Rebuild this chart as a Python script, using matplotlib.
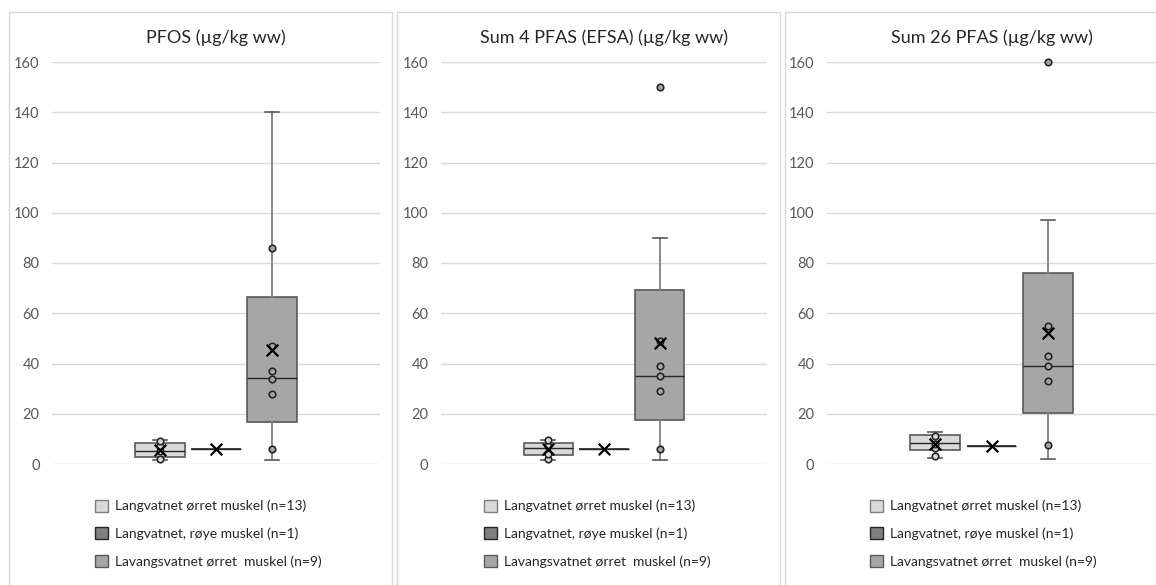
import matplotlib.pyplot as plt
from matplotlib.patches import Patch, Rectangle

plt.rcParams['font.family'] = ['Lato', 'DejaVu Sans']

# Data
titles = ["PFOS (µg/kg ww)", "Sum 4 PFAS (EFSA) (µg/kg ww)", "Sum 26 PFAS (µg/kg ww)"]
groups = ["Langvatnet ørret muskel (n=13)",
          "Langvatnet, røye muskel (n=1)",
          "Lavangsvatnet ørret  muskel (n=9)"]

# one list per panel, one value per group
q1 = [[2.9, 5.8, 16.9], [3.6, 6.1, 17.5], [5.6, 7.2, 20.2]]
med = [[5.2, 5.8, 34.1], [6.2, 6.1, 34.9], [8.2, 7.2, 38.9]]
q3 = [[8.2, 5.8, 66.4], [8.5, 6.1, 69.3], [11.4, 7.2, 76.0]]
wlo = [[1.5, 5.8, 1.5], [1.5, 6.1, 1.5], [2.3, 7.2, 1.9]]
whi = [[9.7, 5.8, 140], [9.7, 6.1, 90], [12.9, 7.2, 97]]
means = [[5.5, 5.8, 45.5], [6.0, 6.1, 48.0], [8.0, 7.2, 52.0]]
points = [
    [[2, 5, 7, 9], [], [86, 47, 37, 34, 28, 6]],
    [[2, 4, 7, 9.5], [], [150, 49, 39, 35, 29, 6]],
    [[3, 6.5, 8, 11], [], [160, 55, 43, 39, 33, 7.5]],
]

fills = ["#D9D9D9", "#7F7F7F", "#A6A6A6"]
edges = ["#595959", "#262626", "#595959"]

W, H = 1156, 585
fig = plt.figure(figsize=(W / 100, H / 100), dpi=100)

# panel frames (left, right) in pixels
frames = [(9, 392), (397, 780), (785, 1160)]
axes_x = [(52, 380), (441, 767), (827, 1156)]
top_px, bot_px = 62, 464

for i in range(3):
    fx0, fx1 = frames[i]
    fig.patches.append(Rectangle((fx0 / W, -0.05), (fx1 - fx0) / W, 1.05 - 12 / H,
                                 transform=fig.transFigure, fill=False,
                                 edgecolor="#D9D9D9", lw=1))
    ax0, ax1 = axes_x[i]
    ax = fig.add_axes([ax0 / W, 1 - bot_px / H, (ax1 - ax0) / W, (bot_px - top_px) / H])

    pos = [-1, 0, 1]
    for j in range(3):
        stats = [dict(med=med[i][j], q1=q1[i][j], q3=q3[i][j],
                      whislo=wlo[i][j], whishi=whi[i][j], fliers=[])]
        ax.bxp(stats, positions=[pos[j]], widths=0.89, capwidths=0.25,
               patch_artist=True, showfliers=False,
               boxprops=dict(facecolor=fills[j], edgecolor=edges[j], lw=1.2),
               medianprops=dict(color="#262626", lw=1),
               whiskerprops=dict(color="#808080", lw=1.3),
               capprops=dict(color="#595959", lw=1.2), zorder=3)
        if points[i][j]:
            ax.scatter([pos[j]] * len(points[i][j]), points[i][j], s=22,
                       facecolor=fills[j], edgecolor="#262626", lw=1.2, zorder=5,
                       clip_on=False)
        ax.scatter([pos[j]], [means[i][j]], marker="x", s=70, color="#000000",
                   lw=1.6, zorder=6)

    ax.set_xlim(-2.93, 2.93)
    ax.set_ylim(0, 160)
    ax.set_yticks(range(0, 161, 20))
    ax.set_xticks([])
    ax.grid(axis="y", color="#D9D9D9", lw=1)
    ax.set_axisbelow(True)
    for s in ["top", "right", "left", "bottom"]:
        ax.spines[s].set_visible(False)
    ax.tick_params(axis="y", length=0, pad=9, labelsize=10.5, labelcolor="#595959")
    ax.set_title(titles[i], fontsize=13, color="#262626", pad=14)

    handles = [Patch(facecolor=fills[k], edgecolor=edges[k] if k else "#7F7F7F", lw=1)
               for k in range(3)]
    ax.legend(handles, groups, loc="upper left",
              bbox_to_anchor=((ax0 + 30) / W, 1 - 487 / H),
              bbox_transform=fig.transFigure, frameon=False, fontsize=10,
              handlelength=1.0, handleheight=1.0, handletextpad=0.5,
              labelspacing=1.05, labelcolor="#262626")

fig.savefig("out.png", dpi=100)
